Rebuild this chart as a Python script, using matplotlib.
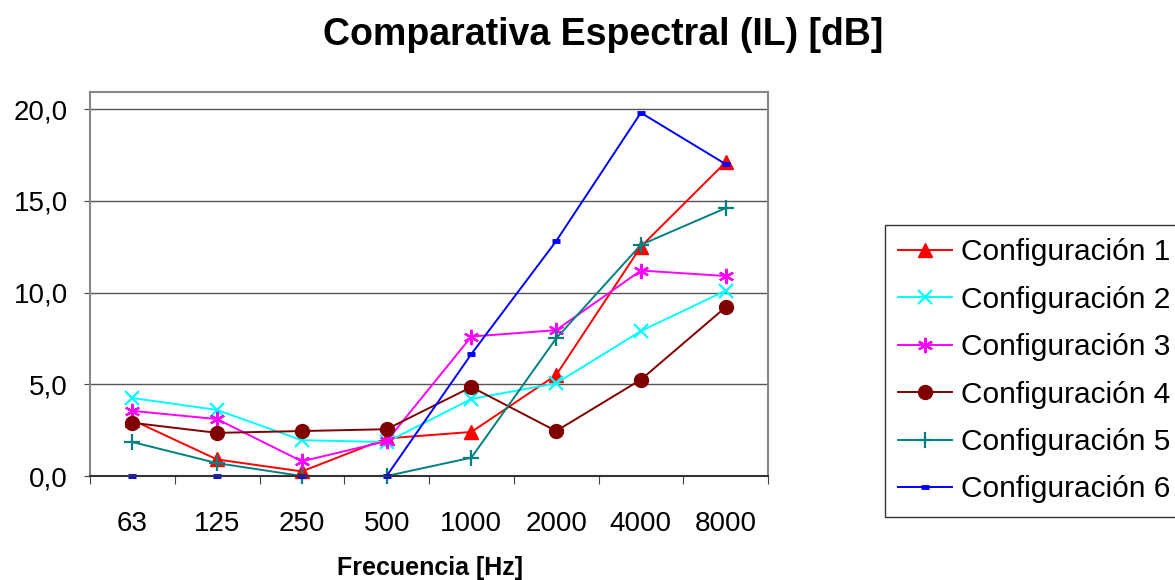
import matplotlib
matplotlib.use("Agg")
import matplotlib.pyplot as plt

plt.rcParams['font.family'] = ['Liberation Sans', 'DejaVu Sans']

freqs = ["63", "125", "250", "500", "1000", "2000", "4000", "8000"]
config1 = [3.05, 0.9, 0.25, 2.05, 2.4, 5.5, 12.5, 17.1]
config2 = [4.25, 3.6, 1.95, 1.85, 4.2, 5.05, 7.9, 10.1]
config3 = [3.55, 3.1, 0.8, 1.9, 7.6, 7.95, 11.2, 10.9]
config4 = [2.9, 2.35, 2.45, 2.55, 4.85, 2.45, 5.25, 9.2]
config5 = [1.85, 0.7, 0.0, 0.0, 1.0, 7.5, 12.6, 14.6]
config6 = [0.0, 0.0, 0.0, 0.0, 6.65, 12.8, 19.8, 17.0]
series_names = ["Configuración 1", "Configuración 2", "Configuración 3",
                "Configuración 4", "Configuración 5", "Configuración 6"]
yticks = [0, 5, 10, 15, 20]
ytick_labels = ["0,0", "5,0", "10,0", "15,0", "20,0"]

fig = plt.figure(figsize=(11.75, 5.8), dpi=100)
ax = fig.add_axes([90/1175, 1-476/580, (768-90)/1175, (476-92)/580])

x = list(range(len(freqs)))
styles = [
    dict(color="#FF0000", marker="^", markersize=10, markeredgewidth=1),
    dict(color="#00FFFF", marker="x", markersize=10, markeredgewidth=1.6),
    dict(color="#FF00FF", marker=(6, 2, 0), markersize=11, markeredgewidth=1.6),
    dict(color="#800000", marker="o", markersize=10, markeredgewidth=1),
    dict(color="#008080", marker="+", markersize=11, markeredgewidth=1.6),
    dict(color="#0000FF", marker="_", markersize=6, markeredgewidth=3.5),
]
data = [config1, config2, config3, config4, config5, config6]
for vals, name, st in zip(data, series_names, styles):
    ax.plot(x, vals, label=name, linewidth=1.4, clip_on=False, **st)

ax.set_xlim(-0.5, len(freqs) - 0.5)
ax.set_ylim(0, 20.93)
ax.set_yticks(yticks)
ax.set_yticklabels(ytick_labels, fontsize=20)
ax.yaxis.grid(True, color="#555555", linewidth=1)
ax.set_axisbelow(True)

# category boundary ticks
ax.set_xticks([i - 0.5 for i in range(len(freqs) + 1)])
ax.set_xticklabels([])
ax.set_xticks(x, minor=True)
ax.set_xticklabels(freqs, minor=True, fontsize=20)
ax.tick_params(axis='x', which='major', direction='out', length=6, color='#444444')
ax.tick_params(axis='x', which='minor', length=0, pad=25)
ax.tick_params(axis='y', direction='out', length=4, color='#444444', pad=12)

for side in ['top', 'right']:
    ax.spines[side].set_color('#888888')
    ax.spines[side].set_linewidth(1.5)
ax.spines['left'].set_color('#888888')
ax.spines['left'].set_linewidth(1.5)
ax.spines['bottom'].set_color('#333333')
ax.spines['bottom'].set_linewidth(1.5)

fig.text(0.513, 0.94, "Comparativa Espectral (IL) [dB]", ha='center', va='center',
         fontsize=27, fontweight='bold')
fig.text(430/1175, 1-568/580, "Frecuencia [Hz]", ha='center', va='center',
         fontsize=18, fontweight='bold')

leg = fig.legend(loc='upper left', bbox_to_anchor=(885/1175, 1-225/580),
                 fontsize=21.5, frameon=True, fancybox=False, edgecolor='black',
                 borderpad=0.45, labelspacing=0.65, handlelength=1.8,
                 handletextpad=0.3, borderaxespad=0)
leg.get_frame().set_linewidth(1)

fig.savefig("out.png", dpi=100)
